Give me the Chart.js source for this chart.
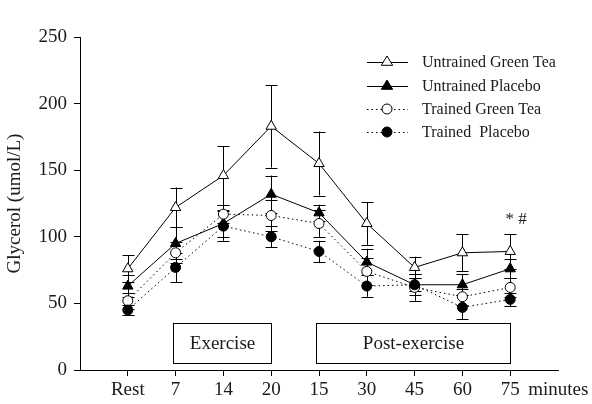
<!DOCTYPE html>
<html>
<head>
<meta charset="utf-8">
<script src="https://cdn.jsdelivr.net/npm/chart.js@4.4.1/dist/chart.umd.min.js"></script>
<style>
html,body{margin:0;padding:0;background:#fff;}
#wrap{width:592px;height:404px;}
</style>
</head>
<body>
<div id="wrap"><canvas id="c" width="592" height="404"></canvas></div>
<script>
const categories = ['Rest','7','14','20','15','30','45','60','75'];
const untrainedGreenTea    = [76,122,146,183,155,110,77,88,89];
const untrainedGreenTeaErr = [10,15,22,31,24,16,8,14,13];
const untrainedPlacebo     = [63,95,110,132,118,81,64,64,76];
const untrainedPlaceboErr  = [8,12,10,14,6,10,5,8,7];
const trainedGreenTea      = [52,88,117,116,110,74,62,55,62];
const trainedGreenTeaErr   = [6,8,7,12,10,10,10,6,7];
const trainedPlacebo       = [45,77,108,100,89,63,64,47,53];
const trainedPlaceboErr    = [4,11,11,8,8,8,8,9,5];
const yTicks = [0,50,100,150,200,250];
const phaseLabels = ['Exercise','Post-exercise'];
const phaseStart  = [1,4];
const phaseEnd    = [3,8];
const unitLabel = 'minutes';
const significance = '* #';

const FONT = '"Liberation Serif", "Times New Roman", serif';
const TXT = '#1a1a1a';

const series = [
  {label:'Untrained Green Tea', data:untrainedGreenTea, err:untrainedGreenTeaErr, style:'triangle', fill:'#fff', dash:[], radius:6},
  {label:'Untrained Placebo',   data:untrainedPlacebo,  err:untrainedPlaceboErr,  style:'triangle', fill:'#000', dash:[], radius:6},
  {label:'Trained Green Tea',   data:trainedGreenTea,   err:trainedGreenTeaErr,   style:'circle',   fill:'#fff', dash:[1.5,3], radius:5},
  {label:'Trained  Placebo',    data:trainedPlacebo,    err:trainedPlaceboErr,    style:'circle',   fill:'#000', dash:[1.5,3], radius:5}
];

const datasets = series.map((s,k)=>({
  label:s.label,
  data:s.data.map((v,i)=>({x:i,y:v})),
  borderColor:'#000',
  borderWidth:1,
  borderDash:s.dash,
  pointStyle:s.style,
  pointRadius:s.radius,
  pointBackgroundColor:s.fill,
  pointBorderColor:'#000',
  pointBorderWidth:1,
  fill:false,
  tension:0,
  order: 3-k
}));

const errorBars = {
  id:'errorBars',
  beforeDatasetsDraw(chart){
    const {ctx, scales:{x,y}} = chart;
    ctx.save();
    ctx.strokeStyle='#000';
    ctx.lineWidth=1;
    series.forEach(s=>{
      s.data.forEach((v,i)=>{
        const px = Math.round(x.getPixelForValue(i))+0.5;
        const top = y.getPixelForValue(v+s.err[i]);
        const bot = y.getPixelForValue(v-s.err[i]);
        ctx.beginPath();
        ctx.moveTo(px,top); ctx.lineTo(px,bot);
        ctx.moveTo(px-6,Math.round(top)+0.5); ctx.lineTo(px+6,Math.round(top)+0.5);
        ctx.moveTo(px-6,Math.round(bot)+0.5); ctx.lineTo(px+6,Math.round(bot)+0.5);
        ctx.stroke();
      });
    });
    ctx.restore();
  }
};

const decorations = {
  id:'decorations',
  afterDraw(chart){
    const {ctx, scales:{x,y}} = chart;
    ctx.save();
    // phase boxes
    ctx.strokeStyle='#000'; ctx.lineWidth=1;
    ctx.font = '19px '+FONT; ctx.fillStyle=TXT;
    ctx.textAlign='center'; ctx.textBaseline='middle';
    phaseLabels.forEach((lab,k)=>{
      const l = Math.round(x.getPixelForValue(phaseStart[k]))-2.5;
      const r = Math.round(x.getPixelForValue(phaseEnd[k]))+0.5;
      const t = Math.round(y.getPixelForValue(35))+0.5;
      const b = Math.round(y.getPixelForValue(5))+0.5;
      ctx.strokeRect(l,t,r-l,b-t);
      ctx.fillText(lab,(l+r)/2,(t+b)/2+1);
    });
    // significance marks
    ctx.font = '17px '+FONT;
    ctx.fillText(significance, x.getPixelForValue(categories.length-1)+6, y.getPixelForValue(113));
    // unit label after last tick
    ctx.textAlign='left';
    const lastX = x.getPixelForValue(categories.length-1);
    ctx.font = '19px '+FONT;
    ctx.fillText(unitLabel, lastX+18, y.bottom+20);
    // legend
    ctx.font='16px '+FONT;
    const rows=[62,86,109,132];
    series.forEach((s,k)=>{
      const ry = rows[k];
      ctx.setLineDash(s.dash);
      ctx.beginPath(); ctx.moveTo(367,ry+0.5); ctx.lineTo(408,ry+0.5); ctx.stroke();
      ctx.setLineDash([]);
      ctx.fillStyle=s.fill; ctx.strokeStyle='#000';
      ctx.beginPath();
      if(s.style==='triangle'){
        const r=s.radius;
        ctx.moveTo(387,ry-r); ctx.lineTo(387+r*0.95,ry+r*0.55); ctx.lineTo(387-r*0.95,ry+r*0.55); ctx.closePath();
      } else {
        ctx.arc(387,ry,s.radius,0,Math.PI*2);
      }
      ctx.fill(); ctx.stroke();
      ctx.fillStyle=TXT;
      ctx.fillText(s.label,422,ry+1);
    });
    ctx.restore();
  }
};

new Chart(document.getElementById('c'),{
  type:'line',
  data:{datasets},
  plugins:[errorBars,decorations],
  options:{
    responsive:false,
    animation:false,
    layout:{padding:{left:0,top:37,right:34,bottom:0}},
    plugins:{legend:{display:false},tooltip:{enabled:false}},
    scales:{
      x:{
        type:'linear', min:-1, max:9,
        afterBuildTicks:(s)=>{ s.ticks = categories.map((c,i)=>({value:i})); },
        afterFit:(s)=>{ s.height=34; },
        ticks:{autoSkip:false,maxRotation:0,padding:3,color:TXT,font:{family:FONT,size:19},
               callback:(v)=>categories[v]},
        grid:{display:true,drawOnChartArea:false,drawTicks:true,tickLength:6,color:'#000'},
        border:{color:'#000',width:1}
      },
      y:{
        min:0,max:250,
        afterBuildTicks:(s)=>{ s.ticks = yTicks.map(v=>({value:v})); },
        afterFit:(s)=>{ s.width=80; },
        ticks:{padding:7,color:TXT,font:{family:FONT,size:19}},
        grid:{display:true,drawOnChartArea:false,drawTicks:true,tickLength:6,color:'#000'},
        border:{color:'#000',width:1},
        title:{display:true,text:'Glycerol (umol/L)',color:TXT,font:{family:FONT,size:19},padding:{top:4,bottom:2}}
      }
    }
  }
});
</script>
</body>
</html>
